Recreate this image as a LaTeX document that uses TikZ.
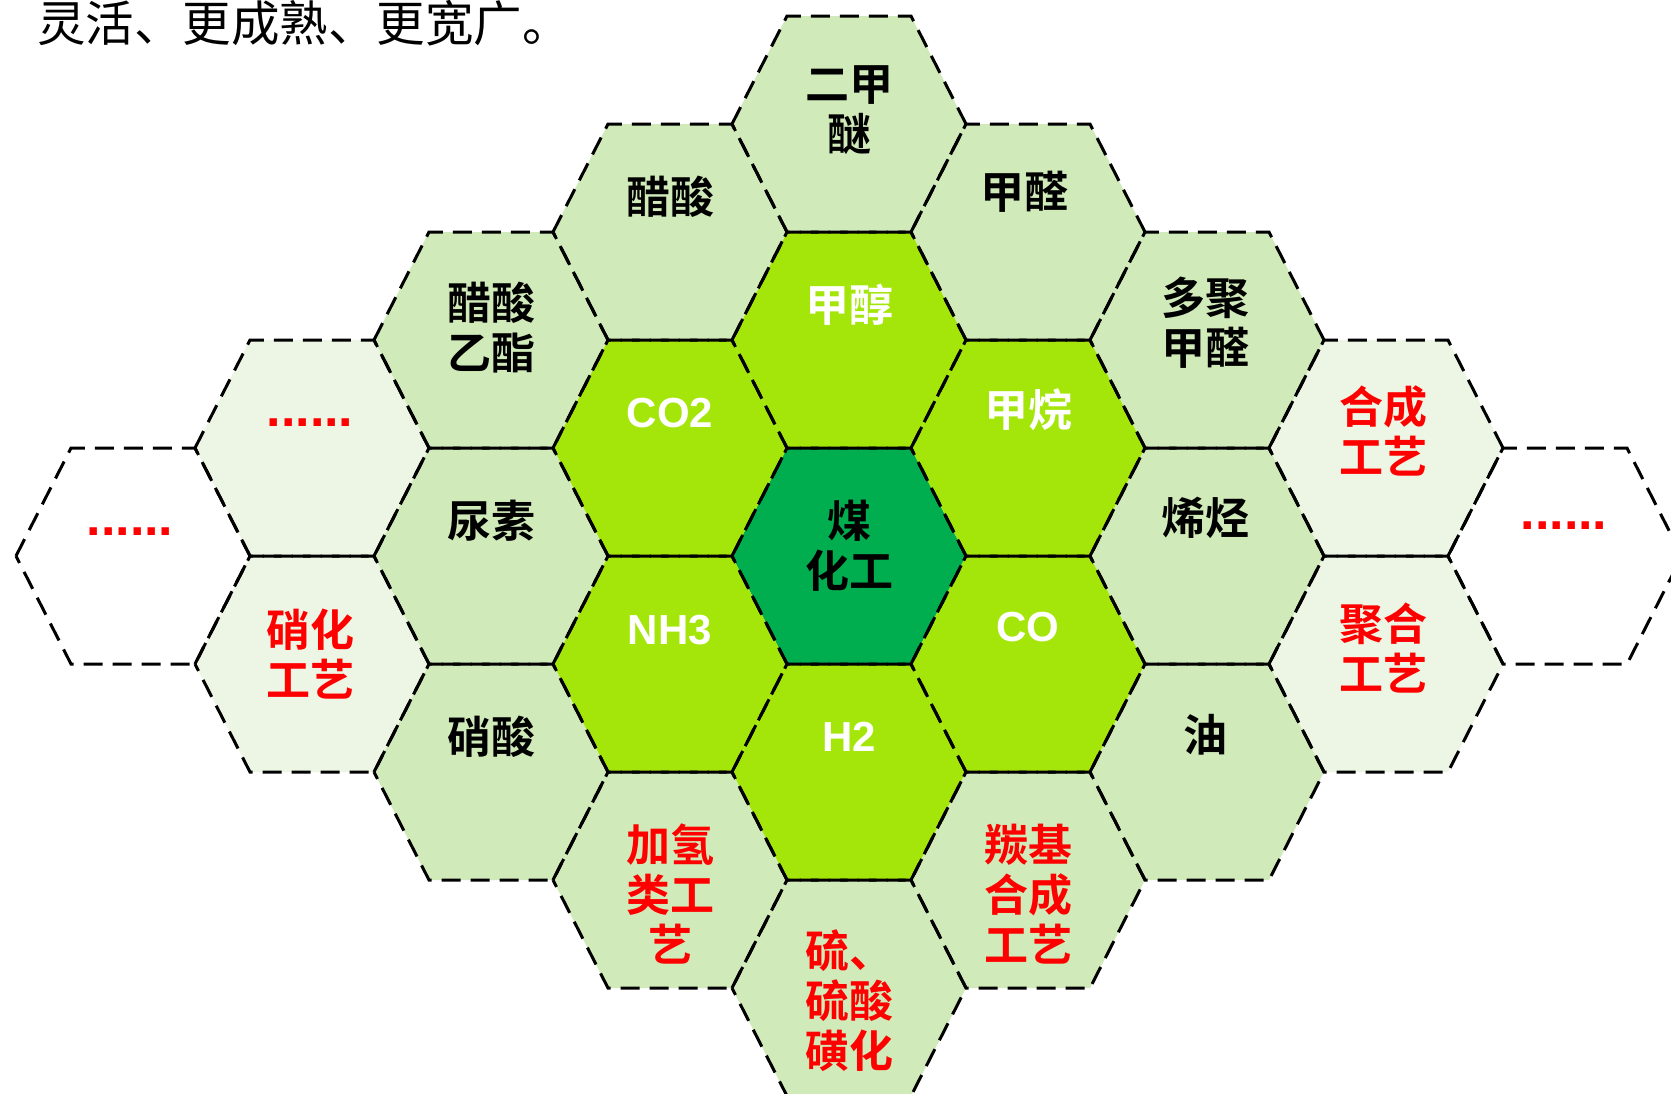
\documentclass[tikz,border=0pt]{standalone}
\usepackage{fontspec}
\newfontfamily\cjk{Noto Sans CJK SC}
\IfFontExistsTF{Noto Sans CJK SC Bold}{\newfontfamily\cjkb{Noto Sans CJK SC Bold}}{\newfontfamily\cjkb{Noto Sans CJK SC}[FakeBold=2]}
\newfontfamily\lat{Liberation Sans}
\definecolor{cdark}{RGB}{0,173,79}
\definecolor{cbright}{RGB}{165,230,10}
\definecolor{clight}{RGB}{208,234,185}
\definecolor{cpale}{RGB}{237,246,228}
\definecolor{cred}{RGB}{255,0,0}
\tikzset{
  hexline/.style={draw=black, line width=3pt, dash pattern=on 19pt off 10pt},
  cn/.style={font=\cjkb\fontsize{44}{50}\selectfont, align=center, inner sep=0pt},
  la/.style={font=\lat\bfseries\fontsize{42}{48}\selectfont, inner sep=0pt, text=white},
  dotsl/.style={font=\lat\bfseries\fontsize{52}{52}\selectfont, inner sep=0pt, text=cred},
  topline/.style={font=\cjk\fontsize{48.5}{54}\selectfont, inner sep=0pt, anchor=base west}
}
\def\cells{849/124/clight, 849/340/cbright, 849/556/cdark, 849/772/cbright, 849/988/clight,
 670/232/clight, 670/448/cbright, 670/664/cbright, 670/880/clight,
 1028/232/clight, 1028/448/cbright, 1028/664/cbright, 1028/880/clight,
 491/340/clight, 491/556/clight, 491/772/clight,
 1207/340/clight, 1207/556/clight, 1207/772/clight,
 312/448/cpale, 312/664/cpale, 1386/448/cpale, 1386/664/cpale,
 133/556/white, 1565/556/white}
\begin{document}
\begin{tikzpicture}[x=1pt,y=-1pt]
\useasboundingbox (0,0) rectangle (1671,1093);
\fill[white] (0,0) rectangle (1671,1093);
\foreach \x/\y/\c in \cells {
  \fill[\c] (\x-117,\y) -- (\x-62,\y-108) -- (\x+62,\y-108) -- (\x+117,\y) -- (\x+62,\y+108) -- (\x-62,\y+108) -- cycle;
}
\foreach \x/\y/\c in \cells {
  \path[hexline] (\x-117,\y) -- (\x-62,\y-108) -- (\x+62,\y-108) -- (\x+117,\y) -- (\x+62,\y+108) -- (\x-62,\y+108) -- cycle;
}
% top text
\node[topline] (head) at (37,41) {灵活、更成熟、更宽广。};
% column 0
\node[cn] (dme) at (849,110) {二甲\\醚};
\node[cn, text=white] (meoh) at (849,305) {甲醇};
\node[cn] (coal) at (849,546) {煤\\化工};
\node[la] (h2) at (849,737) {H2};
\node[cn, text=cred] (sulf) at (849,1001) {硫、\\硫酸\\磺化};
% column -1
\node[cn] (hac) at (670,197) {醋酸};
\node[la] (co2) at (670,413) {CO2};
\node[la] (nh3) at (670,630) {NH3};
\node[cn, text=cred] (hydro) at (670,894) {加氢\\类工\\艺};
% column 1
\node[cn] (hcho) at (1024,192) {甲醛};
\node[cn, text=white] (ch4) at (1028,410) {甲烷};
\node[la] (co) at (1028,627) {CO};
\node[cn, text=cred] (carb) at (1028,894) {羰基\\合成\\工艺};
% column -2
\node[cn] (etac) at (491,328) {醋酸\\乙酯};
\node[cn] (urea) at (491,521) {尿素};
\node[cn] (hno3) at (491,737) {硝酸};
% column 2
\node[cn] (pom) at (1205,323) {多聚\\甲醛};
\node[cn] (olef) at (1205,518) {烯烃};
\node[cn] (oil) at (1205,735) {油};
% column -3
\node[dotsl] (dl1) at (310,423) {......};
\node[cn, text=cred] (nitr) at (310,654) {硝化\\工艺};
% column 3
\node[cn, text=cred] (synth) at (1383,431) {合成\\工艺};
\node[cn, text=cred] (poly) at (1383,648) {聚合\\工艺};
% outermost
\node[dotsl] (dl2) at (130,532) {......};
\node[dotsl] (dr) at (1564,526) {......};
\end{tikzpicture}
\end{document}
